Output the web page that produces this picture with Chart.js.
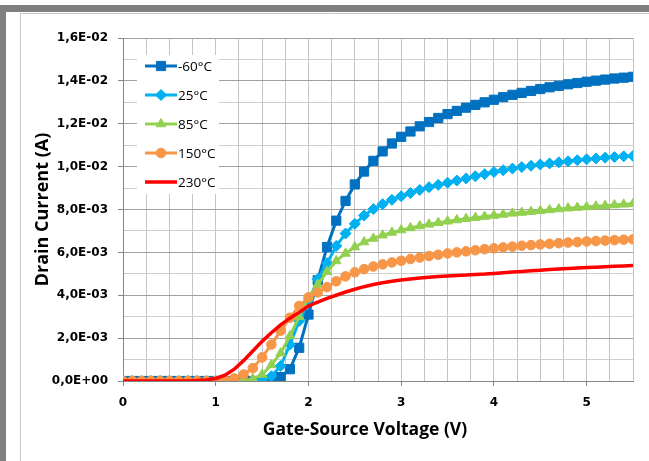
<!DOCTYPE html>
<html>
<head>
<meta charset="utf-8">
<script src="https://cdn.jsdelivr.net/npm/chart.js@4.4.1/dist/chart.umd.min.js"></script>
<style>
  html, body { margin: 0; padding: 0; background: #ffffff; }
  canvas { display: block; }
</style>
</head>
<body>
<canvas id="chart" width="649" height="461"></canvas>
<script>
// Gate-source voltage sweep (V)
const voltage = [
  0.0, 0.1, 0.2, 0.3, 0.4, 0.5, 0.6, 0.7, 0.8, 0.9,
  1.0, 1.1, 1.2, 1.3, 1.4, 1.5, 1.6, 1.7, 1.8, 1.9,
  2.0, 2.1, 2.2, 2.3, 2.4, 2.5, 2.6, 2.7, 2.8, 2.9,
  3.0, 3.1, 3.2, 3.3, 3.4, 3.5, 3.6, 3.7, 3.8, 3.9,
  4.0, 4.1, 4.2, 4.3, 4.4, 4.5, 4.6, 4.7, 4.8, 4.9,
  5.0, 5.1, 5.2, 5.3, 5.4, 5.5
];

const seriesLabels = ['-60°C', '25°C', '85°C', '150°C', '230°C'];

// Drain current (A) per temperature
const idMinus60 = [
  0, 0, 0, 0, 0, 0, 0, 0, 0, 0,
  0, 0, 0, 0, 0, 0, 0.00005, 0.00018, 0.00055, 0.00155,
  0.0031, 0.0047, 0.00625, 0.00748, 0.0084, 0.00917, 0.00977, 0.01027, 0.01071, 0.01108,
  0.01139, 0.01164, 0.01188, 0.01208, 0.01227, 0.01245, 0.0126, 0.01275, 0.01288, 0.013,
  0.01312, 0.01324, 0.01335, 0.01344, 0.01353, 0.01362, 0.0137, 0.01377, 0.01384, 0.0139,
  0.01396, 0.01401, 0.01406, 0.01411, 0.01415, 0.01419
];
const id25 = [
  0, 0, 0, 0, 0, 0, 0, 0, 0, 0,
  0, 0, 0, 0, 0, 0.00005, 0.00022, 0.0007, 0.0017, 0.0028,
  0.00365, 0.00475, 0.0055, 0.0063, 0.00688, 0.00733, 0.00772, 0.00802, 0.00825, 0.00845,
  0.00862, 0.00877, 0.00891, 0.00904, 0.00915, 0.00925, 0.00935, 0.00945, 0.00955, 0.00965,
  0.00975, 0.00983, 0.00991, 0.00998, 0.01004, 0.0101, 0.01015, 0.0102, 0.01025, 0.0103,
  0.01034, 0.01038, 0.01042, 0.01045, 0.01048, 0.0105
];
const id85 = [
  0, 0, 0, 0, 0, 0, 0, 0, 0, 0,
  0, 0, 0, 0.00003, 0.0001, 0.0003, 0.00075, 0.0013, 0.0021, 0.003,
  0.0039, 0.0045, 0.0051, 0.0056, 0.00595, 0.00625, 0.00648, 0.00665, 0.0068, 0.00693,
  0.00704, 0.00714, 0.00723, 0.00731, 0.00738, 0.00745, 0.00751, 0.00757, 0.00762, 0.00767,
  0.00772, 0.00777, 0.00782, 0.00786, 0.0079, 0.00794, 0.00798, 0.00802, 0.00806, 0.00809,
  0.00812, 0.00815, 0.00818, 0.00821, 0.00824, 0.00827
];
const id150 = [
  0, 0, 0, 0, 0, 0, 0, 0, 0, 0,
  0, 0.00004, 0.00012, 0.0003, 0.0006, 0.0011, 0.0017, 0.00235, 0.00295, 0.0035,
  0.0039, 0.00413, 0.00438, 0.00465, 0.00488, 0.00507, 0.00522, 0.00534, 0.00544, 0.00553,
  0.00561, 0.00569, 0.00576, 0.00583, 0.00589, 0.00595, 0.006, 0.00605, 0.0061, 0.00615,
  0.00619, 0.00623, 0.00627, 0.00631, 0.00634, 0.00637, 0.0064, 0.00643, 0.00646, 0.00648,
  0.00651, 0.00653, 0.00655, 0.00657, 0.00659, 0.00661
];
const id230 = [
  0, 0, 0, 0, 0, 0, 0, 0, 0.00002, 0.00005,
  0.00012, 0.00027, 0.00055, 0.00095, 0.0014, 0.00185, 0.00225, 0.00262, 0.00293, 0.0032,
  0.0035, 0.00368, 0.00385, 0.004, 0.00415, 0.00428, 0.0044, 0.0045, 0.00458, 0.00465,
  0.00471, 0.00476, 0.0048, 0.00484, 0.00487, 0.0049, 0.00492, 0.00494, 0.00497, 0.00499,
  0.00502, 0.00505, 0.00508, 0.00511, 0.00514, 0.00517, 0.0052, 0.00523, 0.00525, 0.00527,
  0.00529, 0.00531, 0.00533, 0.00535, 0.00537, 0.00539
];

const xTickLabels = ['0', '1', '2', '3', '4', '5'];
const yTickLabels = ['0,0E+00', '2,0E-03', '4,0E-03', '6,0E-03', '8,0E-03',
                     '1,0E-02', '1,2E-02', '1,4E-02', '1,6E-02'];
const xAxisTitle = 'Gate-Source Voltage (V)';
const yAxisTitle = 'Drain Current (A)';

const seriesValues = [idMinus60, id25, id85, id150, id230];
const seriesColors = ['#0070C0', '#00B0F0', '#92D050', '#F79646', '#FF0000'];
const seriesMarkers = ['rect', 'rectRot', 'triangle', 'circle', 'circle'];
const seriesMarkerSizes = [6.5, 5.5, 5.5, 4.8, 0];
const seriesLineWidths = [3, 3, 3, 3, 3.5];

const toPoints = (vals) => voltage.map((v, i) => ({ x: v, y: vals[i] }));

const datasets = seriesValues.map((vals, k) => ({
  label: seriesLabels[k],
  data: toPoints(vals),
  borderColor: seriesColors[k],
  backgroundColor: seriesColors[k],
  pointBackgroundColor: seriesColors[k],
  pointBorderColor: seriesColors[k],
  pointBorderWidth: 1,
  pointStyle: seriesMarkers[k],
  pointRadius: seriesMarkerSizes[k],
  borderWidth: seriesLineWidths[k],
  tension: 0,
  order: seriesValues.length - k   // later series painted over earlier ones
}));

// Window frame around the chart sheet
const framePlugin = {
  id: 'frame',
  beforeDraw(chart) {
    const { ctx, width, height } = chart;
    ctx.save();
    ctx.fillStyle = '#ffffff';
    ctx.fillRect(0, 0, width, height);
    ctx.fillStyle = '#7f7f7f';
    ctx.fillRect(0, 5, width, 7);
    ctx.fillRect(0, 5, 6, height - 5);
    ctx.strokeStyle = '#c8c8c8';
    ctx.lineWidth = 1;
    ctx.beginPath();
    ctx.moveTo(20.5, 13);
    ctx.lineTo(20.5, height);
    ctx.moveTo(20, 13.5);
    ctx.lineTo(width, 13.5);
    ctx.stroke();
    ctx.restore();
  }
};

// Legend box placed inside the plot area, upper left
const insetLegend = {
  id: 'insetLegend',
  beforeDatasetsDraw(chart) {
    const { ctx } = chart;
    const box = { x: 137, y: 55, w: 82, h: 139 };
    ctx.save();
    ctx.fillStyle = '#ffffff';
    ctx.fillRect(box.x, box.y, box.w, box.h);
    chart.data.datasets.forEach((ds, i) => {
      const cy = 66 + i * 29;
      ctx.strokeStyle = ds.borderColor;
      ctx.lineWidth = ds.borderWidth;
      ctx.beginPath();
      ctx.moveTo(145, cy);
      ctx.lineTo(177, cy);
      ctx.stroke();
      if (ds.pointRadius > 0 && Chart.helpers && Chart.helpers.drawPoint) {
        ctx.fillStyle = ds.pointBackgroundColor;
        ctx.strokeStyle = ds.pointBorderColor;
        ctx.lineWidth = 1;
        Chart.helpers.drawPoint(ctx, { pointStyle: ds.pointStyle, radius: ds.pointRadius, rotation: 0, borderWidth: 1 }, 161, cy);
      }
      ctx.fillStyle = '#000000';
      ctx.font = '13.5px "Open Sans", sans-serif';
      ctx.textAlign = 'left';
      ctx.textBaseline = 'middle';
      ctx.fillText(ds.label, 178, cy + 1);
    });
    ctx.restore();
  }
};

const tickFont = { family: '"DejaVu Sans", sans-serif', size: 12, weight: 'bold' };
const titleFont = { family: '"Open Sans", sans-serif', size: 18, weight: 'bold' };

// Horizontal axis title, centred under the tick labels
const xTitlePlugin = {
  id: 'xTitle',
  afterDraw(chart) {
    const { ctx } = chart;
    ctx.save();
    ctx.fillStyle = '#000000';
    ctx.font = 'bold 17.5px "Open Sans", sans-serif';
    ctx.textAlign = 'center';
    ctx.textBaseline = 'middle';
    ctx.fillText(xAxisTitle, 365, 430);
    ctx.restore();
  }
};

const isWhole = (v) => Math.abs(v - Math.round(v)) < 1e-6;
const yIndex = (v) => Math.round(v / 0.001);

new Chart(document.getElementById('chart'), {
  type: 'line',
  data: { datasets },
  options: {
    responsive: false,
    devicePixelRatio: 1,
    animation: false,
    layout: { padding: { left: 0, right: 16, top: 38, bottom: 0 } },
    plugins: {
      legend: { display: false },
      tooltip: { enabled: false }
    },
    scales: {
      x: {
        type: 'linear',
        min: 0,
        max: 5.5,
        afterFit(scale) { scale.height = 80; },
        border: { color: '#868686', width: 1 },
        grid: {
          color: '#c4c4c4',
          lineWidth: 1,
          drawTicks: true,
          tickLength: 5,
          tickColor: (c) => (c.tick && isWhole(c.tick.value)) ? '#868686' : 'rgba(0,0,0,0)'
        },
        ticks: {
          stepSize: 0.25,
          autoSkip: false,
          maxRotation: 0,
          padding: 10,
          color: '#000000',
          font: tickFont,
          callback: (v) => isWhole(v) ? xTickLabels[Math.round(v)] : ''
        },
        title: { display: false }
      },
      y: {
        type: 'linear',
        min: 0,
        max: 0.016,
        afterFit(scale) { scale.width = 123; },
        border: { color: '#868686', width: 1 },
        grid: {
          color: (c) => (c.tick && yIndex(c.tick.value) % 2 === 0) ? '#a0a0a0' : '#cfcfcf',
          lineWidth: 1,
          drawTicks: true,
          tickLength: 5,
          tickColor: (c) => (c.tick && yIndex(c.tick.value) % 2 === 0) ? '#868686' : 'rgba(0,0,0,0)'
        },
        ticks: {
          stepSize: 0.001,
          autoSkip: false,
          padding: 10,
          color: '#000000',
          font: tickFont,
          callback: (v) => {
            const k = yIndex(v);
            return k % 2 === 0 ? yTickLabels[k / 2] : '';
          }
        },
        title: {
          display: true,
          text: yAxisTitle,
          color: '#000000',
          font: titleFont,
          padding: { top: 32, bottom: 0 }
        }
      }
    }
  },
  plugins: [framePlugin, insetLegend, xTitlePlugin]
});
</script>
</body>
</html>
